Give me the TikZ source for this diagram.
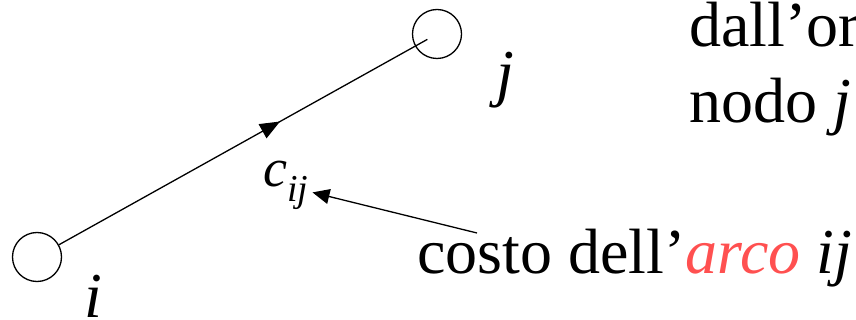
\documentclass[tikz,border=0pt]{standalone}
\usepackage{fontspec}
\setmainfont{Liberation Serif}
\usepackage{tikz}
\usetikzlibrary{arrows.meta,positioning,calc,decorations.markings}
\definecolor{arcred}{RGB}{255,80,80}
\newcommand{\bigtxt}{\fontsize{64}{76}\selectfont}
\tikzset{
  vtx/.style={circle, draw, line width=1.3pt, minimum size=49pt, inner sep=0pt},
  lbl/.style={inner sep=0pt, anchor=base west, font=\bigtxt},
  arcline/.style={line width=1.3pt, postaction={decorate},
    decoration={markings, mark=at position 0.6 with {\arrow{Triangle[length=20pt,width=16pt]}}}},
  ptrarr/.style={-{Triangle[length=17pt,width=15pt]}, line width=1.3pt},
}

\begin{document}
\begin{tikzpicture}[x=1pt,y=-1pt]
  \useasboundingbox (0,0) rectangle (856,320);
  % nodes of the arc
  \node[vtx] (i) at (37,257) {};
  \node[vtx] (j) at (437,34) {};
  \node[lbl] (li) at (84,317) {\textit{i}};
  \node[lbl] (lj) at (496,95) {\textit{j}};
  \coordinate (jin) at ($(i.center)!0.976!(j.center)$);
  \draw[arcline] (i) -- (jin);
  % cost label
  \node[inner sep=4pt, anchor=base west] (cij) at (259,187)
    {\fontsize{54}{60}\selectfont\textit{c}\raisebox{-15pt}{\fontsize{38}{44}\selectfont\textit{ij}}};
  % texts on the right
  \node[lbl] (t1) at (689,47) {dall’or};
  \node[lbl] (t2) at (689,123) {nodo \textit{j}};
  \node[lbl] (t3) at (417,273) {costo dell’\textit{\textcolor{arcred}{arco}} \textit{ij}};
  \coordinate (ptr) at (477,233);
  \draw[ptrarr] (ptr) -- (cij);
\end{tikzpicture}
\end{document}
